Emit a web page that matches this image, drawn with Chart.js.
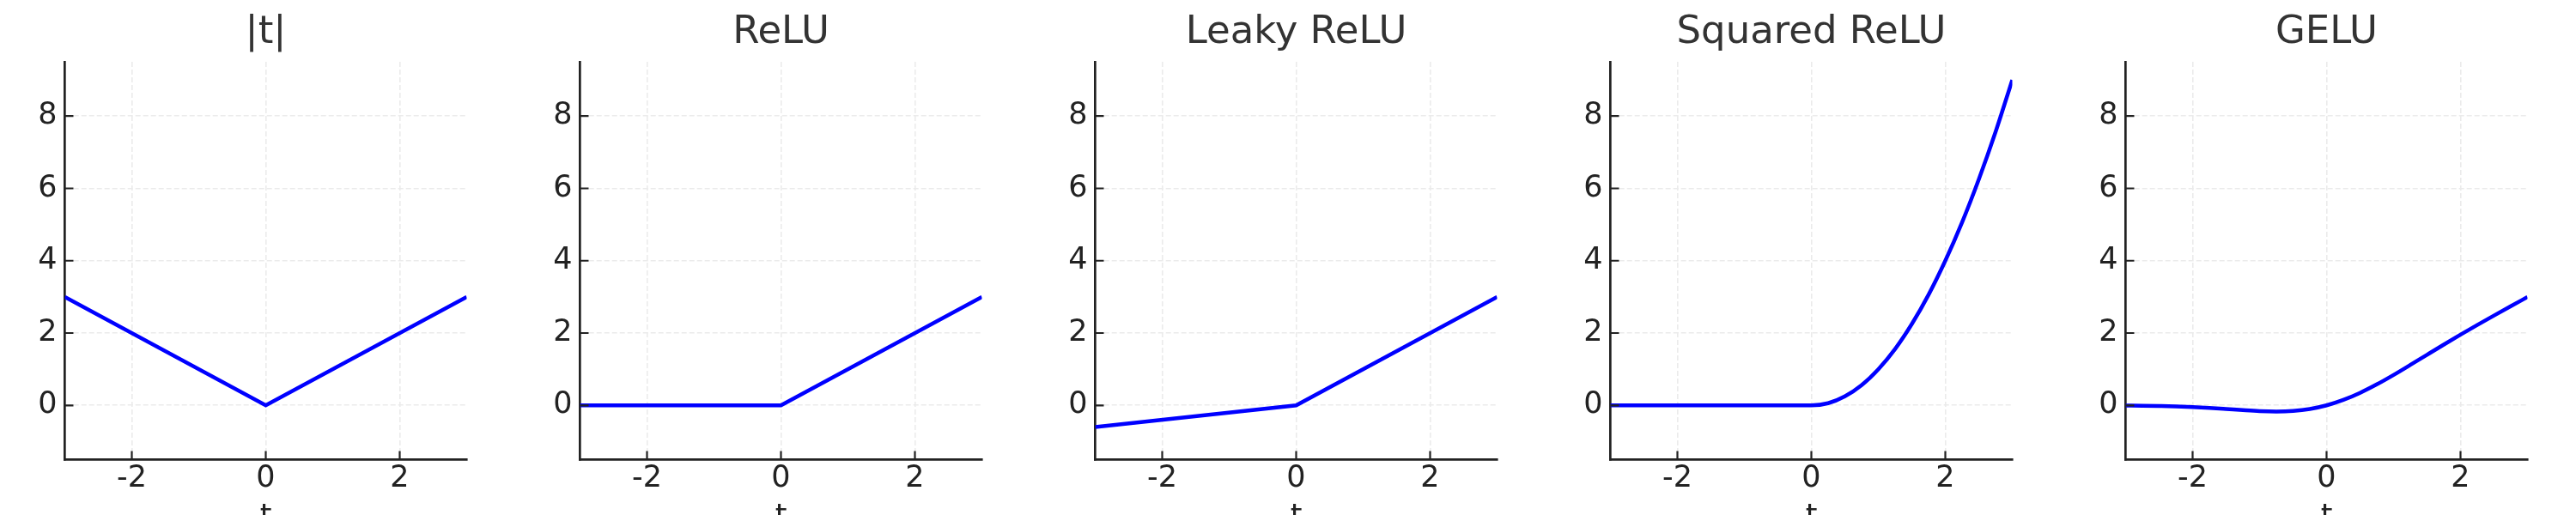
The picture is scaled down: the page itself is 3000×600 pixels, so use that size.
<!DOCTYPE html>
<html lang="en">
<head>
    <meta charset="UTF-8">
    <title>Activation functions</title>
    <script src="https://cdn.jsdelivr.net/npm/chart.js"></script>
    <style>
        body {
            margin: 0;
            background: #fff;
        }
        .row {
            display: flex;
            width: 3000px;
            height: 600px;
        }
        .panel {
            position: relative;
            width: 600px;
            height: 600px;
        }
    </style>
</head>
<body>
    <div class="row">
        <div class="panel"><canvas id="c0"></canvas></div>
        <div class="panel"><canvas id="c1"></canvas></div>
        <div class="panel"><canvas id="c2"></canvas></div>
        <div class="panel"><canvas id="c3"></canvas></div>
        <div class="panel"><canvas id="c4"></canvas></div>
    </div>

    <script>
        const titles = ['|t|', 'ReLU', 'Leaky ReLU', 'Squared ReLU', 'GELU'];
        const xTicks = [-2, 0, 2];
        const yTicks = [0, 2, 4, 6, 8];

        // values
        const absT = [-3, 0, 3];
        const absY = [3, 0, 3];
        const reluT = [-3, 0, 3];
        const reluY = [0, 0, 3];
        const leakyT = [-3, 0, 3];
        const leakyY = [-0.6, 0, 3];
        const sqT = [-3, -1.5, 0, 0.25, 0.5, 0.75, 1, 1.25, 1.5, 1.75, 2, 2.25, 2.5, 2.75, 3];
        const sqY = [0, 0, 0, 0.06, 0.25, 0.56, 1, 1.56, 2.25, 3.06, 4, 5.06, 6.25, 7.56, 9];
        const geluT = [-3, -2.75, -2.5, -2.25, -2, -1.75, -1.5, -1.25, -1, -0.75, -0.5, -0.25,
                       0, 0.25, 0.5, 0.75, 1, 1.25, 1.5, 1.75, 2, 2.25, 2.5, 2.75, 3];
        const geluY = [-0.004, -0.008, -0.016, -0.027, -0.046, -0.070, -0.100, -0.132, -0.159, -0.170, -0.154, -0.100,
                       0, 0.150, 0.346, 0.580, 0.841, 1.118, 1.400, 1.680, 1.955, 2.223, 2.485, 2.742, 2.996];

        const series = [
            { t: absT, y: absY, smooth: false },
            { t: reluT, y: reluY, smooth: false },
            { t: leakyT, y: leakyY, smooth: false },
            { t: sqT, y: sqY, smooth: true },
            { t: geluT, y: geluY, smooth: true }
        ];

        const FONT = 'DejaVu Sans';
        const AXIS = '#222222';

        // matplotlib style ticks pointing into the plot
        const inwardTicks = {
            id: 'inwardTicks',
            afterDraw(chart) {
                const { ctx, chartArea: a, scales: { x, y } } = chart;
                ctx.save();
                ctx.strokeStyle = AXIS;
                ctx.lineWidth = 2.2;
                ctx.beginPath();
                x.ticks.forEach((t, i) => {
                    const px = x.getPixelForTick(i);
                    ctx.moveTo(px, a.bottom);
                    ctx.lineTo(px, a.bottom - 10);
                });
                y.ticks.forEach((t, i) => {
                    const py = y.getPixelForTick(i);
                    ctx.moveTo(a.left, py);
                    ctx.lineTo(a.left + 10, py);
                });
                ctx.stroke();
                ctx.restore();
            }
        };

        function makeChart(idx) {
            const s = series[idx];
            const ctx = document.getElementById('c' + idx).getContext('2d');
            return new Chart(ctx, {
                type: 'line',
                data: {
                    datasets: [{
                        data: s.t.map((t, i) => ({ x: t, y: s.y[i] })),
                        borderColor: '#0000ff',
                        borderWidth: 4.5,
                        pointRadius: 0,
                        fill: false,
                        tension: 0,
                        cubicInterpolationMode: s.smooth ? 'monotone' : 'default'
                    }]
                },
                options: {
                    responsive: true,
                    maintainAspectRatio: false,
                    animation: false,
                    layout: { padding: { left: 0, right: 56.5, top: 0, bottom: 0 } },
                    plugins: {
                        legend: { display: false },
                        tooltip: { enabled: false },
                        title: {
                            display: true,
                            text: titles[idx],
                            fullSize: false,
                            color: '#333333',
                            font: { family: FONT, size: 45, weight: 'normal' },
                            padding: { top: 11.5, bottom: 6.5 }
                        }
                    },
                    scales: {
                        x: {
                            type: 'linear',
                            min: -3,
                            max: 3,
                            afterBuildTicks: sc => { sc.ticks = xTicks.map(v => ({ value: v })); },
                            afterFit: sc => { sc.height = 64.5; },
                            ticks: {
                                color: AXIS,
                                padding: 1,
                                font: { family: FONT, size: 35 },
                                callback: v => String(v)
                            },
                            grid: { color: '#ebebeb', lineWidth: 1.6, drawTicks: false },
                            border: { display: true, color: AXIS, width: 2.7, dash: [6, 3] },
                            title: {
                                display: true,
                                text: 't',
                                color: AXIS,
                                font: { family: FONT, size: 35 },
                                padding: { top: 0, bottom: -24 }
                            }
                        },
                        y: {
                            type: 'linear',
                            min: -1.5,
                            max: 9.5,
                            afterBuildTicks: sc => { sc.ticks = yTicks.map(v => ({ value: v })); },
                            afterFit: sc => { sc.width = 75.5; },
                            ticks: {
                                color: AXIS,
                                padding: 9,
                                font: { family: FONT, size: 35 },
                                callback: v => String(v)
                            },
                            grid: { color: '#ebebeb', lineWidth: 1.6, drawTicks: false },
                            border: { display: true, color: AXIS, width: 2.7, dash: [6, 3] }
                        }
                    }
                },
                plugins: [inwardTicks]
            });
        }

        titles.forEach((t, i) => makeChart(i));
    </script>
</body>
</html>
